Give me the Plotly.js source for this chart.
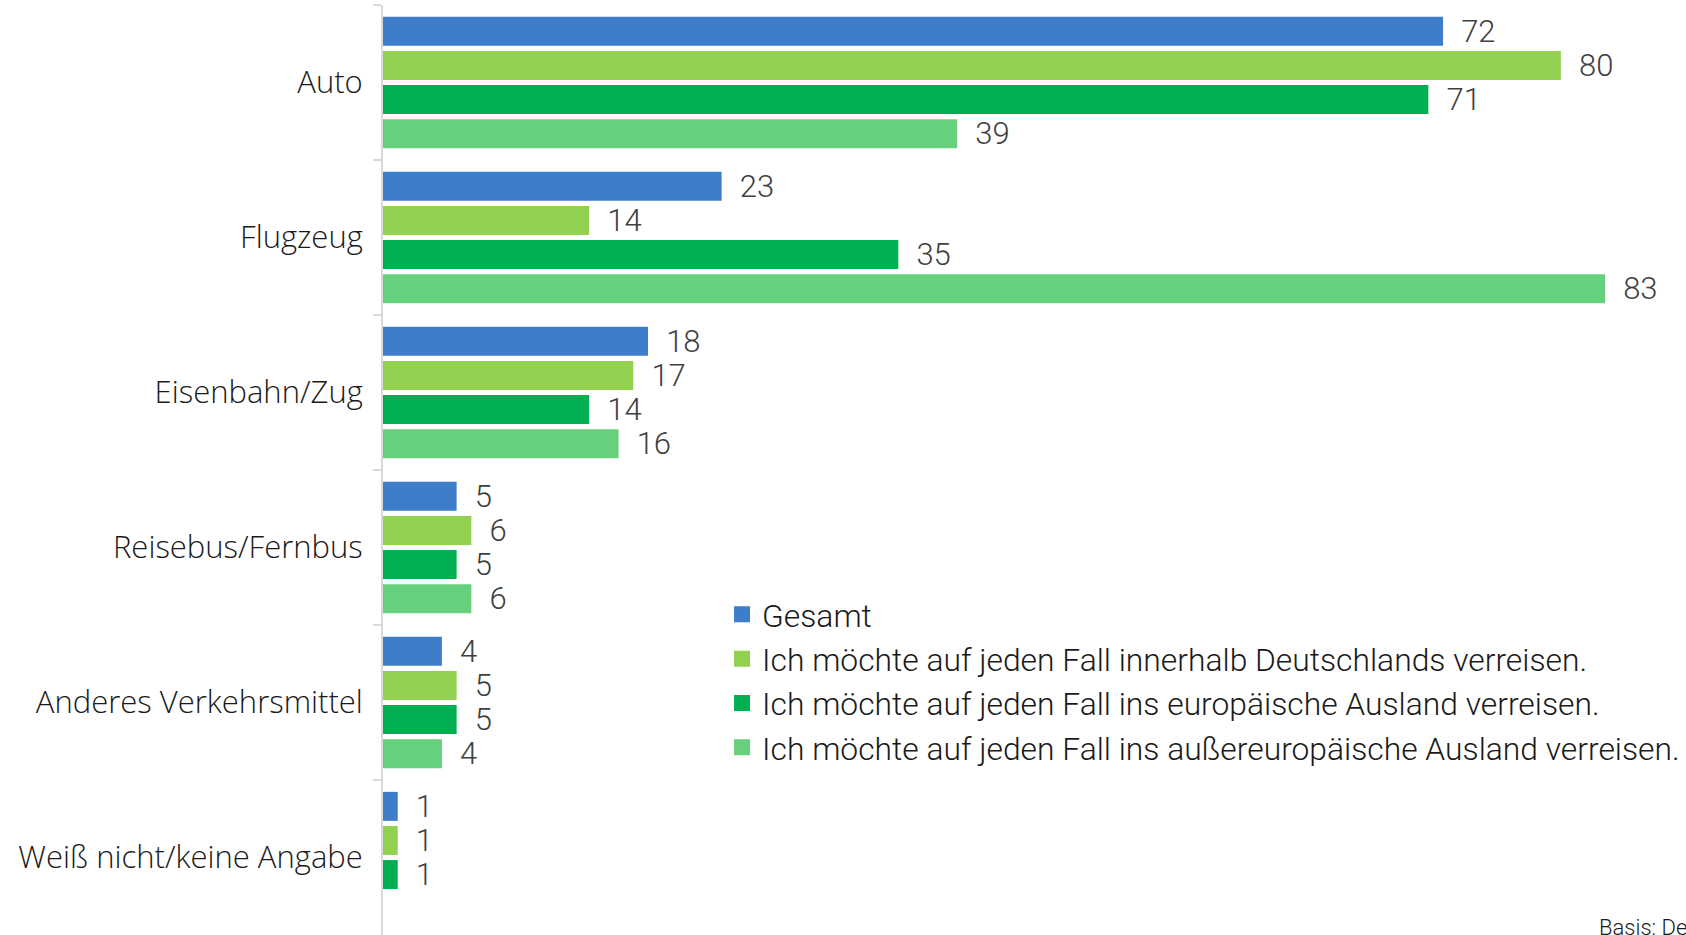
<!DOCTYPE html>
<html>
<head>
<meta charset="utf-8">
<script src="https://cdn.plot.ly/plotly-3.0.1.min.js"></script>
<style>html,body{margin:0;padding:0;background:#fff;}#chart{width:1686px;height:935px;}</style>
</head>
<body>
<div id="chart"></div>
<script>
const categories = ["Auto", "Flugzeug", "Eisenbahn/Zug", "Reisebus/Fernbus", "Anderes Verkehrsmittel", "Weiß nicht/keine Angabe"];
const seriesNames = [
  "Gesamt",
  "Ich möchte auf jeden Fall innerhalb Deutschlands verreisen.",
  "Ich möchte auf jeden Fall ins europäische Ausland verreisen.",
  "Ich möchte auf jeden Fall ins außereuropäische Ausland verreisen."
];
const gesamt = [72, 23, 18, 5, 4, 1];
const innerhalb = [80, 14, 17, 6, 5, 1];
const europa = [71, 35, 14, 5, 5, 1];
const aussereuropa = [39, 83, 16, 6, 4, null];
const colors = ["#3D7DCA", "#92D050", "#00B050", "#66D07C"];
const sourceText = "Basis: De";

const allValues = [gesamt, innerhalb, europa, aussereuropa];
const traces = allValues.map((vals, i) => ({
  type: "bar",
  orientation: "h",
  name: seriesNames[i],
  y: categories,
  x: vals,
  marker: {color: colors[i]},
  text: vals.map(v => v == null ? "" : "\u00a0\u00a0" + v),
  textposition: "outside",
  constraintext: "none",
  cliponaxis: false,
  textfont: {family: "Roboto", size: 31, color: "#404040", weight: 300},
  showlegend: false,
  hoverinfo: "x+y"
}));
// legend entries with larger square symbols
seriesNames.forEach((n, i) => traces.push({
  type: "scatter", mode: "markers", name: n,
  x: [null], y: [null],
  marker: {symbol: "square", size: 16, color: colors[i]},
  showlegend: true, hoverinfo: "skip"
}));

const layout = {
  width: 1686,
  height: 935,
  margin: {l: 383, r: 0, t: 5, b: 0, autoexpand: false},
  paper_bgcolor: "#fff",
  plot_bgcolor: "#fff",
  barmode: "group",
  bargap: 0.12,
  bargroupgap: 0.15,
  showlegend: true,
  legend: {
    x: 0.2602, y: 0.374, xanchor: "left", yanchor: "top",
    font: {family: "Roboto", size: 31.8, color: "#1a1a1a", weight: 300},
    traceorder: "normal",
    itemwidth: 30,
    bgcolor: "rgba(0,0,0,0)"
  },
  xaxis: {
    range: [0, 88.5],
    showgrid: false, zeroline: false, showline: false, showticklabels: false, ticks: ""
  },
  yaxis: {
    autorange: "reversed",
    type: "category",
    showgrid: false, zeroline: false,
    showline: true, linecolor: "#D9D9D9", linewidth: 2,
    ticks: "outside", tickson: "boundaries", ticklen: 8, tickcolor: "#D9D9D9", tickwidth: 2,
    ticklabelstandoff: 12,
    tickfont: {family: "Open Sans", size: 31, color: "#1a1a1a", weight: 300}
  },
  annotations: [{
    text: sourceText, xref: "paper", yref: "paper",
    x: (1597 - 383) / 1303, y: -0.008, xanchor: "left", yanchor: "bottom",
    showarrow: false, font: {family: "Roboto", size: 22, color: "#1a1a1a", weight: 300}
  }]
};

Plotly.newPlot("chart", traces, layout, {displayModeBar: false, staticPlot: true});
</script>
</body>
</html>
